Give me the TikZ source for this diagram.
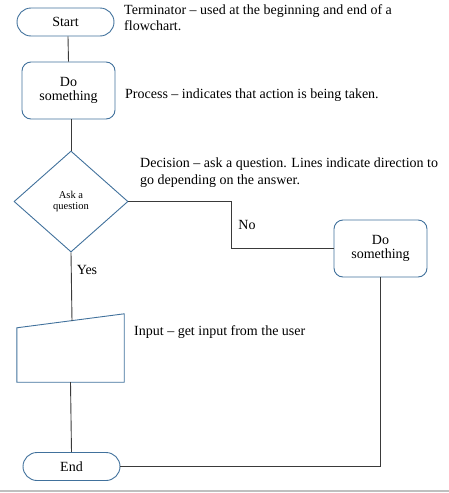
\documentclass[tikz,border=0pt]{standalone}
\usepackage{fontspec}
\setmainfont{Liberation Serif}
\usetikzlibrary{shapes.geometric,calc}
\definecolor{shapeblue}{HTML}{41719C}
\definecolor{linegray}{HTML}{3A3A3A}
\tikzset{
  term/.style={draw=shapeblue,line width=0.9pt,rounded corners=14pt,minimum width=97pt,minimum height=28pt,inner sep=0pt,font=\fontsize{14}{15}\selectfont},
  proc/.style={draw=shapeblue,line width=0.9pt,rounded corners=9pt,minimum width=93pt,minimum height=57pt,inner sep=0pt,align=center,font=\fontsize{14}{15}\selectfont},
  dec/.style={draw=shapeblue,line width=0.9pt,diamond,minimum width=114pt,minimum height=101pt,inner sep=0pt,align=center,font=\fontsize{10.5}{12.5}\selectfont},
  conn/.style={draw=linegray,line width=0.9pt},
  note/.style={anchor=north west,inner sep=0pt,align=left,font=\fontsize{14}{16.5}\selectfont},
  lbl/.style={inner sep=0pt,font=\fontsize{14}{15}\selectfont}
}
\begin{document}
\begin{tikzpicture}[x=1pt,y=-1pt]
\useasboundingbox (0,0) rectangle (449,493);
\draw[color=black!25,line width=1.2pt] (0,491) -- (449,491);
% nodes
\node[term] (start) at (65.5,22) {Start};
\node[proc] (do1) at (68.5,90.5) {Do\\[-1pt]something};
\node[dec] (q) at (71,201.5) {Ask a\\[-1pt]question};
\node[proc] (do2) at (380.5,248.5) {Do\\[-1pt]something};
\node[minimum width=107pt,minimum height=68pt,inner sep=0pt] (inp) at (70.5,348) {};
\draw[shapeblue,line width=0.9pt] ($(inp.north west)+(0,14)$) -- (inp.north east) -- (inp.south east) -- (inp.south west) -- cycle;
\coordinate (inptop) at (72,321);
\node[term] (end) at (71.5,466.5) {End};
% notes
\node[note] (n1) at (124,4) {Terminator -- used at the beginning and end of a\\flowchart.};
\node[note] (n2) at (125,89) {Process -- indicates that action is being taken.};
\node[note] (n3) at (140,158) {Decision -- ask a question. Lines indicate direction to\\go depending on the answer.};
\node[note] (n4) at (134,325) {Input -- get input from the user};
\node[lbl] (no) at (247,225) {No};
\node[lbl] (yes) at (87,270) {Yes};
% connectors
\coordinate (bend) at (231,201.5);
\draw[conn] ($(start.south)+(2.5,0)$) -- (do1.north);
\draw[conn] ($(do1.south)+(2.5,0)$) -- (q.north);
\draw[conn] (q.east) -- (bend) |- (do2.west);
\draw[conn] (q.south) -- (inptop);
\draw[conn] (inp.south) -- (end.north);
\draw[conn] (do2.south) |- (end.east);
\end{tikzpicture}
\end{document}
